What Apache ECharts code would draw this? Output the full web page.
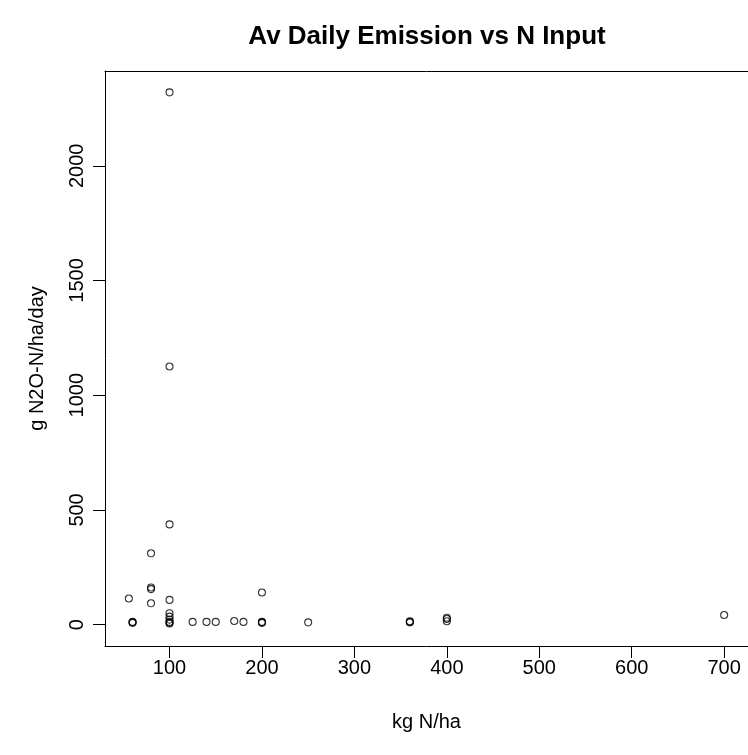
<!DOCTYPE html>
<html>
<head>
<meta charset="utf-8">
<script src="https://cdn.jsdelivr.net/npm/echarts@6/dist/echarts.min.js"></script>
<style>
  html, body { margin: 0; padding: 0; background: #fff; }
  #chart { width: 748px; height: 755px; background: #fff; }
</style>
</head>
<body>
<div id="chart"></div>
<script>
// N input (kg N/ha) and average daily emission (g N2O-N/ha/day)
const nInput = [56, 60, 60, 60, 80, 80, 80, 80,
  100, 100, 100, 100, 100, 100, 100, 100, 100, 100,
  125, 140, 150, 170, 180, 200, 200, 200, 200, 250,
  360, 360, 360, 400, 400, 400, 700];
const emission = [114, 8, 10, 12, 311, 155, 162, 93,
  2320, 1125, 437, 108, 50, 35, 22, 12, 8, 5,
  12, 12, 12, 16, 12, 140, 10, 12, 8, 10,
  12, 15, 10, 15, 25, 30, 42];

const xTicks = [100, 200, 300, 400, 500, 600, 700];
const yTicks = [0, 500, 1000, 1500, 2000];

// R style padded ranges
const xRange = [30.2, 725.8];
const yRange = [-93, 2413];

const points = nInput.map((x, i) => [x, emission[i]]);

const lineStyle = { color: '#000', width: 1 };

let chart = echarts.init(document.getElementById('chart'));

// the box is drawn by four axis lines, the bottom and left ones carry ticks
let option = {
    animation: false,
    textStyle: { fontFamily: 'Liberation Sans, Arial, sans-serif', color: '#000' },
    title: {
        text: 'Av Daily Emission vs N Input',
        left: 422,
        textAlign: 'center',
        top: 19,
        textStyle: { fontSize: 26, fontWeight: 'bold', color: '#000' }
    },
    grid: {
        left: 105,
        top: 71,
        width: 652,
        height: 575
    },
    xAxis: [
        {
            type: 'value',
            position: 'bottom',
            min: xRange[0],
            max: xRange[1],
            name: 'kg N/ha',
            nameLocation: 'middle',
            nameGap: 66,
            nameTextStyle: { fontSize: 20, color: '#000' },
            splitLine: { show: false },
            axisLine: { show: true, onZero: false, lineStyle: lineStyle },
            axisTick: { show: true, inside: false, length: 12, customValues: xTicks, lineStyle: lineStyle },
            axisLabel: { customValues: xTicks, fontSize: 20, color: '#000', margin: 12 }
        },
        {
            type: 'value',
            position: 'top',
            min: xRange[0],
            max: xRange[1],
            splitLine: { show: false },
            axisLine: { show: true, onZero: false, lineStyle: lineStyle },
            axisTick: { show: false },
            axisLabel: { show: false }
        }
    ],
    yAxis: [
        {
            type: 'value',
            position: 'left',
            min: yRange[0],
            max: yRange[1],
            name: 'g N2O-N/ha/day',
            nameLocation: 'middle',
            nameGap: 58,
            nameRotate: 90,
            nameTextStyle: { fontSize: 20, color: '#000' },
            splitLine: { show: false },
            axisLine: { show: true, onZero: false, lineStyle: lineStyle },
            axisTick: { show: true, inside: false, length: 12, customValues: yTicks, lineStyle: lineStyle },
            axisLabel: { customValues: yTicks, formatter: v => String(v), fontSize: 20, color: '#000', rotate: 90, margin: 18 }
        },
        {
            type: 'value',
            position: 'right',
            min: yRange[0],
            max: yRange[1],
            splitLine: { show: false },
            axisLine: { show: true, onZero: false, lineStyle: lineStyle },
            axisTick: { show: false },
            axisLabel: { show: false }
        }
    ],
    series: [
        {
            type: 'scatter',
            xAxisIndex: 0,
            yAxisIndex: 0,
            data: points,
            symbol: 'circle',
            symbolSize: 7,
            itemStyle: { color: 'transparent', borderColor: '#000', borderWidth: 1.1 }
        }
    ]
};

chart.setOption(option);
</script>
</body>
</html>
